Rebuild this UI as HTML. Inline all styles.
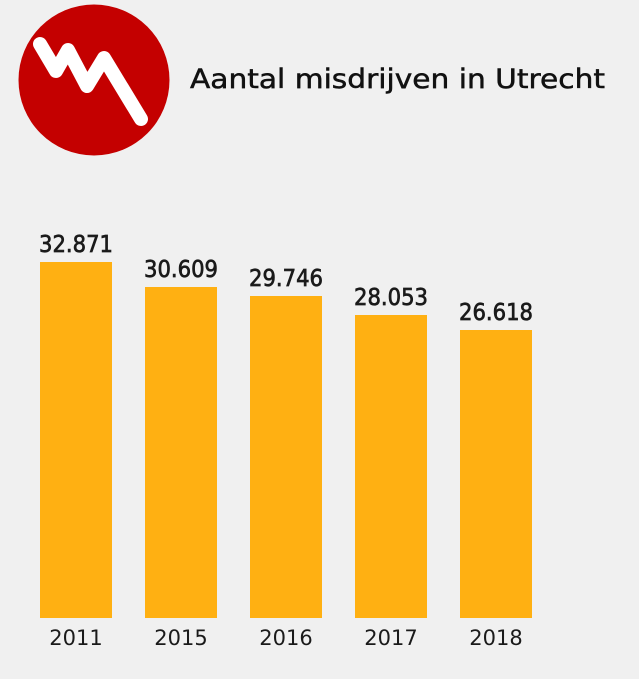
<!DOCTYPE html>
<html><head><meta charset="utf-8"><style>
html,body{margin:0;padding:0;background:#f0f0f0;width:639px;height:679px;overflow:hidden}
</style></head><body>
<svg width="639" height="679" viewBox="0 0 639 679" xmlns="http://www.w3.org/2000/svg" style="font-family:'DejaVu Sans','Liberation Sans',sans-serif">
<rect width="639" height="679" fill="#f0f0f0"/>
<circle cx="94" cy="80" r="75.5" fill="#c40000"/>
<polyline points="40,44 56,71 68,50 87,86 104,58 141,119" fill="none" stroke="#fff" stroke-width="14" stroke-linecap="round" stroke-linejoin="round"/>
<text x="190" y="88" font-size="27" fill="#111" stroke="#111" stroke-width="0.5" textLength="415" lengthAdjust="spacingAndGlyphs">Aantal misdrijven in Utrecht</text>
<g fill="#ffb012">
<rect x="40" y="262" width="72" height="356"/>
<rect x="145" y="287" width="72" height="331"/>
<rect x="250" y="296" width="72" height="322"/>
<rect x="355" y="315" width="72" height="303"/>
<rect x="460" y="330" width="72" height="288"/>
</g>
<g font-size="23" fill="#1a1a1a" stroke="#1a1a1a" stroke-width="0.7" text-anchor="middle">
<text x="76" y="252" textLength="74" lengthAdjust="spacingAndGlyphs">32.871</text>
<text x="181" y="277" textLength="74" lengthAdjust="spacingAndGlyphs">30.609</text>
<text x="286" y="286" textLength="74" lengthAdjust="spacingAndGlyphs">29.746</text>
<text x="391" y="305" textLength="74" lengthAdjust="spacingAndGlyphs">28.053</text>
<text x="496" y="320" textLength="74" lengthAdjust="spacingAndGlyphs">26.618</text>
</g>
<g font-size="21" fill="#1a1a1a" text-anchor="middle">
<text x="76" y="645">2011</text>
<text x="181" y="645">2015</text>
<text x="286" y="645">2016</text>
<text x="391" y="645">2017</text>
<text x="496" y="645">2018</text>
</g>
</svg>
</body></html>
